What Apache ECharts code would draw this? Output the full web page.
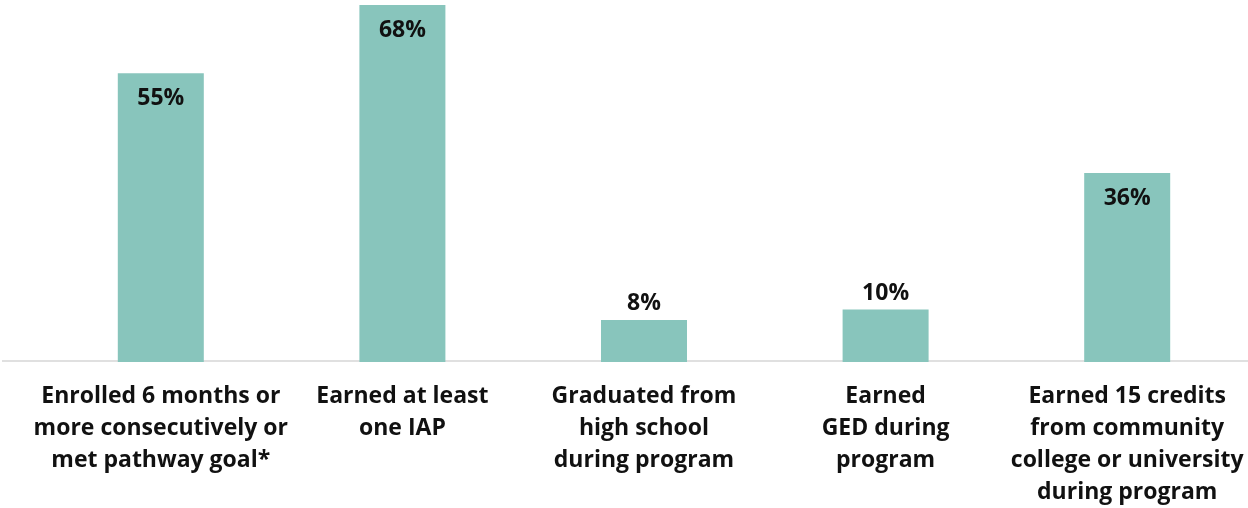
<!DOCTYPE html>
<html><head><meta charset="utf-8">
<script src="https://cdn.jsdelivr.net/npm/echarts@6/dist/echarts.min.js"></script>
<style>html,body{margin:0;padding:0;background:#fff}#c{width:1248px;height:508px}</style>
</head><body><div id="c"></div>
<script>
var categories = [
  "Enrolled 6 months or\nmore consecutively or\nmet pathway goal*",
  "Earned at least\none IAP",
  "Graduated from\nhigh school\nduring program",
  "Earned\nGED during\nprogram",
  "Earned 15 credits\nfrom community\ncollege or university\nduring program"
];
var values = [55, 68, 8, 10, 36];
var insideThreshold = 20;

var chart = echarts.init(document.getElementById('c'), null, {renderer: 'canvas'});
var font = '"Open Sans"';
var option = {
  animation: false,
  grid: {left: 40, right: 0, top: 5, bottom: 142, containLabel: false},
  xAxis: {
    type: 'category', data: categories,
    axisLine: {show: false},
    axisTick: {show: false},
    axisLabel: {interval: 0, margin: 18, color: '#111', fontFamily: font, fontWeight: 'bold', fontSize: 23, lineHeight: 32, align: 'center', verticalAlign: 'top'}
  },
  yAxis: {type: 'value', min: 0, max: 68, show: false, splitLine: {show: false}},
  series: [{
    type: 'bar', barWidth: 86,
    data: values.map(function (v) {
      return {value: v, label: {position: v >= insideThreshold ? 'insideTop' : 'top', distance: v >= insideThreshold ? 14 : 5}};
    }),
    itemStyle: {color: '#88c5bc'},
    label: {show: true, formatter: '{c}%', color: '#111', fontFamily: font, fontWeight: 'bold', fontSize: 23}
  }]
};
chart.setOption(option);
var y0 = chart.convertToPixel({yAxisIndex: 0}, 0);
chart.setOption({graphic: [{type: 'line', shape: {x1: 2, y1: y0 - 1, x2: 1248, y2: y0 - 1}, style: {stroke: '#d6d6d6', lineWidth: 1.5}, z: 0}]});
</script></body></html>
